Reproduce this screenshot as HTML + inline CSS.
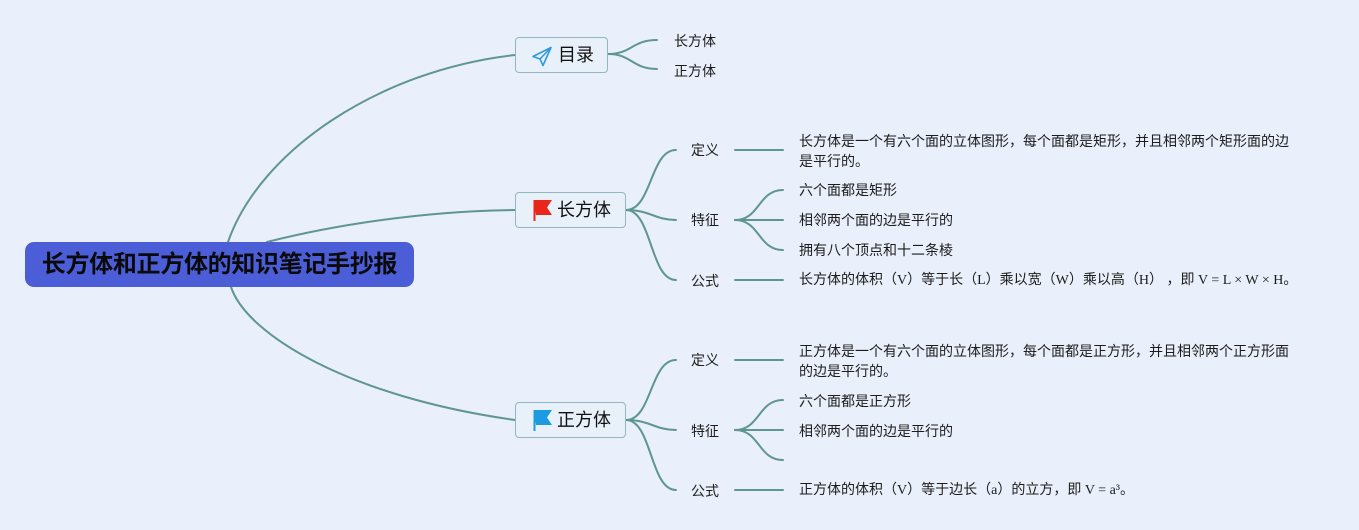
<!DOCTYPE html>
<html><head><meta charset="utf-8">
<style>
html,body{margin:0;padding:0;}
body{width:1359px;height:530px;background:#e9effb;position:relative;overflow:hidden;
font-family:"Liberation Sans","Noto Sans CJK SC",sans-serif;color:#1c1c1c;}
svg{position:absolute;left:0;top:0;}
.t{position:absolute;white-space:nowrap;font-size:14px;line-height:20px;}
.f{font-family:"Liberation Serif","Noto Sans CJK SC",serif;}
.box{position:absolute;box-sizing:border-box;border:1.5px solid #93b7bf;border-radius:4px;background:#e8f0fa;}
.bt{position:absolute;font-size:18px;line-height:24px;white-space:nowrap;color:#111;}
.root{position:absolute;left:25px;top:242px;width:389px;height:45px;background:#4b5ed8;border-radius:9px;}
.rt{position:absolute;left:0;top:0;width:389px;height:45px;line-height:45px;text-align:center;font-size:24px;font-weight:bold;color:#0a0a0a;letter-spacing:-0.3px;}
</style></head><body>
<svg width="1359" height="530" viewBox="0 0 1359 530">
<g fill="none" stroke="#5f968f" stroke-width="2" stroke-linecap="round">
<path d="M228 242 C260 150,380 70,515 55"/>
<path d="M267 242 C330 226,420 211,515 210"/>
<path d="M231 287 C247 335,350 397,515 420"/>
<path d="M608 54 C632 54,632 40,657 40"/>
<path d="M608 54 C632 54,632 69,657 69"/>
<path d="M626 210 C652 210,650 150,676 150"/>
<path d="M626 210 C650 210,655 220,676 220"/>
<path d="M626 210 C652 210,650 280,676 280"/>
<path d="M735 150 L783 150"/>
<path d="M735 220 C760 220,758 190,783 190"/>
<path d="M735 220 L783 220"/>
<path d="M735 220 C760 220,758 250,783 250"/>
<path d="M735 280 L783 280"/>
<path d="M626 420 C652 420,650 360,676 360"/>
<path d="M626 420 C650 420,655 430,676 430"/>
<path d="M626 420 C652 420,650 490,676 490"/>
<path d="M735 360 L783 360"/>
<path d="M735 430 C760 430,758 400,783 400"/>
<path d="M735 430 L783 430"/>
<path d="M735 430 C760 430,758 460,783 460"/>
<path d="M735 490 L783 490"/>
</g>
</svg>

<div class="root"><div class="rt">长方体和正方体的知识笔记手抄报</div></div>

<div class="box" style="left:515px;top:37px;width:93px;height:36px;"></div>
<svg width="1359" height="530" viewBox="0 0 1359 530">
<g fill="none" stroke="#2f9ae0" stroke-width="1.6" stroke-linejoin="round">
<path d="M551 47.5 L533 56.5 L540 59 L543 65.5 Z"/>
<path d="M540 59 L551 47.5"/>
</g>
</svg>
<div class="bt" style="left:558px;top:43px;">目录</div>
<div class="t" style="left:674px;top:31px;">长方体</div>
<div class="t" style="left:674px;top:61px;">正方体</div>

<div class="box" style="left:515px;top:192px;width:111px;height:36px;"></div>
<svg width="1359" height="530" viewBox="0 0 1359 530">
<path d="M534 200 L552 200 L547 207.5 L552 215 L536 215 Z" fill="#e8261a"/>
<path d="M534.5 200 L534.5 221" stroke="#e8261a" stroke-width="2"/>
</svg>
<div class="bt" style="left:557px;top:198px;">长方体</div>
<div class="t" style="left:691px;top:140px;">定义</div>
<div class="t" style="left:691px;top:210px;">特征</div>
<div class="t" style="left:691px;top:271px;">公式</div>
<div class="t" style="left:799px;top:131px;">长方体是一个有六个面的立体图形，每个面都是矩形，并且相邻两个矩形面的边<br>是平行的。</div>
<div class="t" style="left:799px;top:180px;">六个面都是矩形</div>
<div class="t" style="left:799px;top:210px;">相邻两个面的边是平行的</div>
<div class="t" style="left:799px;top:240px;">拥有八个顶点和十二条棱</div>
<div class="t f" style="left:799px;top:271px;">长方体的体积（V）等于长（L）乘以宽（W）乘以高（H） ，即 V = L × W × H。</div>

<div class="box" style="left:515px;top:402px;width:111px;height:36px;"></div>
<svg width="1359" height="530" viewBox="0 0 1359 530">
<path d="M534 410 L552 410 L547 417.5 L552 425 L536 425 Z" fill="#1c9be0"/>
<path d="M534.5 410 L534.5 431" stroke="#1c9be0" stroke-width="2"/>
</svg>
<div class="bt" style="left:557px;top:408px;">正方体</div>
<div class="t" style="left:691px;top:350px;">定义</div>
<div class="t" style="left:691px;top:421px;">特征</div>
<div class="t" style="left:691px;top:481px;">公式</div>
<div class="t" style="left:799px;top:341px;">正方体是一个有六个面的立体图形，每个面都是正方形，并且相邻两个正方形面<br>的边是平行的。</div>
<div class="t" style="left:799px;top:391px;">六个面都是正方形</div>
<div class="t" style="left:799px;top:421px;">相邻两个面的边是平行的</div>
<div class="t f" style="left:799px;top:481px;">正方体的体积（V）等于边长（a）的立方，即 V = a³。</div>
</body></html>
